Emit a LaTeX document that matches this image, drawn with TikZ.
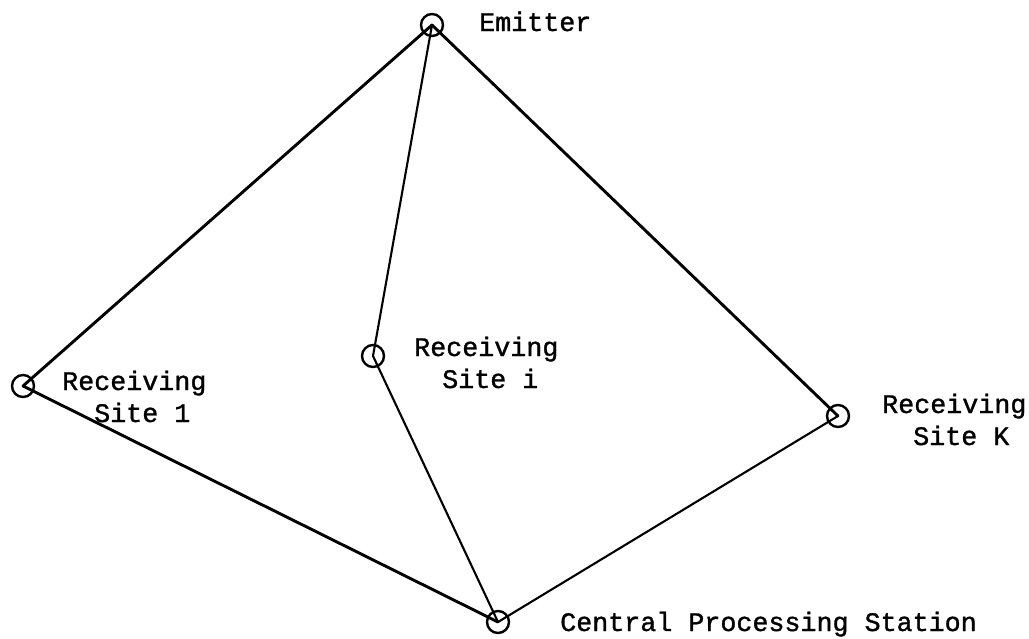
\documentclass[tikz,border=0pt]{standalone}
\usepackage{fontspec}
\setmonofont[FakeBold=1.2]{Liberation Mono}
\begin{document}
\begin{tikzpicture}[x=1pt,y=-1pt,
  site/.style={draw,circle,line width=2.4pt,minimum size=22pt,inner sep=0pt},
  lbl/.style={anchor=base west,inner sep=0pt,font=\ttfamily\fontsize{26.7}{32}\selectfont},
  thick link/.style={line width=2.9pt,line cap=round},
  thin link/.style={line width=2.1pt,line cap=round}]
\useasboundingbox (0,0) rectangle (1029,638);
\node[site] (em) at (432,25) {};
\node[site] (s1) at (23,386) {};
\node[site] (si) at (373,356) {};
\node[site] (sk) at (838,416) {};
\node[site] (cp) at (498,622) {};
\draw[thick link] (em.center) -- (s1.center);
\draw[thin link] (em.center) -- (si.center);
\draw[thick link] (em.center) -- (sk.center);
\draw[thick link] (s1.center) -- (cp.center);
\draw[thin link] (si.center) -- (cp.center);
\draw[thin link] (sk.center) -- (cp.center);
\node[lbl] (tem) at (479,31) {Emitter};
\node[lbl] (t1a) at (62,390) {Receiving};
\node[lbl] (t1b) at (94,422) {Site 1};
\node[lbl] (tia) at (414,356) {Receiving};
\node[lbl] (tib) at (442,388) {Site i};
\node[lbl] (tka) at (882,413) {Receiving};
\node[lbl] (tkb) at (913,445) {Site K};
\node[lbl] (tcp) at (560,631) {Central Processing Station};
\end{tikzpicture}
\end{document}
